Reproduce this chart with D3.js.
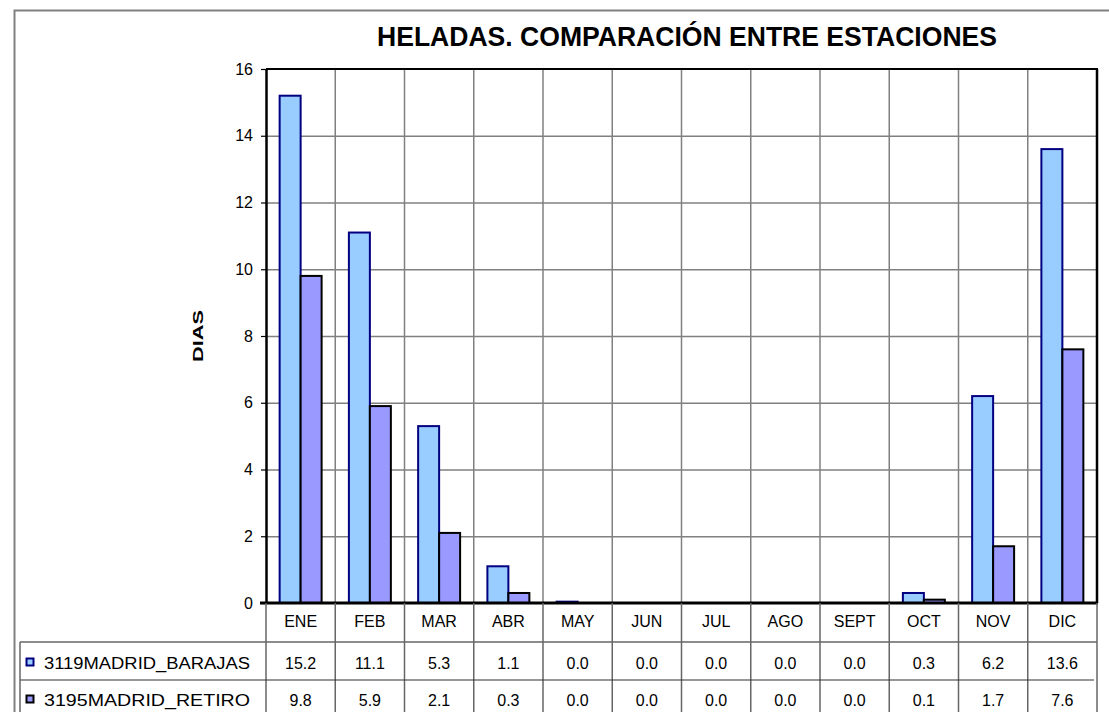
<!DOCTYPE html>
<html><head><meta charset="utf-8">
<script src="https://cdn.jsdelivr.net/npm/d3@7"></script>
<style>body{margin:0;background:#fff}svg{display:block}text{font-family:"Liberation Sans",Arial,sans-serif}</style>
</head><body><svg id="c" width="1109" height="712"></svg>
<script>
const categories = ["ENE","FEB","MAR","ABR","MAY","JUN","JUL","AGO","SEPT","OCT","NOV","DIC"];
const seriesNames = ["3119MADRID_BARAJAS","3195MADRID_RETIRO"];
const barajas = [15.2,11.1,5.3,1.1,0.04,0.0,0.0,0.0,0.0,0.3,6.2,13.6];
const retiro = [9.8,5.9,2.1,0.3,0.0,0.0,0.0,0.0,0.0,0.1,1.7,7.6];
const yTicks = [0,2,4,6,8,10,12,14,16];
const titleText = "HELADAS. COMPARACIÓN ENTRE ESTACIONES";
const yLabel = "DIAS";

const seriesValues = [barajas, retiro];
const fills = ["#99CCFF","#9999FF"];
const strokes = ["#000080","#000000"];

const svg = d3.select("#c");
const L = 266, R = 1097, T = 69, B = 603;

svg.append("rect").attr("width",1109).attr("height",712).attr("fill","#fff");
// outer frame
svg.append("path").attr("d","M14.5,712 V10.5 H1109").attr("fill","none").attr("stroke","#808080").attr("stroke-width",2);

const x = d3.scaleBand().domain(categories).range([L,R]).padding(0);
const xs = d3.scaleBand().domain(d3.range(seriesNames.length)).range([0,x.bandwidth()]).paddingInner(0).paddingOuter(0.65);
const y = d3.scaleLinear().domain([0,16]).range([B,T]);

// horizontal gridlines
svg.append("g").selectAll("line").data(yTicks.filter(t=>t>0&&t<16)).join("line")
  .attr("x1",L).attr("x2",R).attr("y1",d=>y(d)+0.5).attr("y2",d=>y(d)+0.5)
  .attr("stroke","#808080").attr("stroke-width",1.5);
// vertical category gridlines in plot
svg.append("g").selectAll("line").data(categories.slice(1)).join("line")
  .attr("x1",d=>x(d)).attr("x2",d=>x(d)).attr("y1",T).attr("y2",B)
  .attr("stroke","#808080").attr("stroke-width",1.5);

// bars
seriesValues.forEach((vals,si)=>{
  svg.append("g").selectAll("rect").data(vals.map((v,i)=>({c:categories[i],v}))).join("rect")
    .attr("x",d=>x(d.c)+xs(si))
    .attr("width",xs.bandwidth())
    .attr("y",d=>y(d.v))
    .attr("height",d=>y(0)-y(d.v))
    .attr("fill",fills[si]).attr("stroke",strokes[si]).attr("stroke-width",2);
});

// plot frame
svg.append("line").attr("x1",L).attr("x2",R+1).attr("y1",T).attr("y2",T).attr("stroke","#000").attr("stroke-width",2);
svg.append("line").attr("x1",R).attr("x2",R).attr("y1",T).attr("y2",B).attr("stroke","#000").attr("stroke-width",2.5);

// y axis
const yAxis = svg.append("g").attr("transform",`translate(${L},0)`)
  .call(d3.axisLeft(y).tickValues(yTicks).tickSize(5).tickPadding(8).tickSizeOuter(0));
yAxis.select(".domain").attr("stroke","#000").attr("stroke-width",2.5);
yAxis.selectAll(".tick line").attr("stroke","#000").attr("stroke-width",1.2);
yAxis.selectAll(".tick text").attr("font-size",16).attr("fill","#000").attr("font-family","Liberation Sans, Arial, sans-serif");

// x axis baseline
svg.append("line").attr("x1",L-6).attr("x2",R+1).attr("y1",B).attr("y2",B).attr("stroke","#000").attr("stroke-width",3);

// table lines
svg.append("g").selectAll("line").data(categories.concat(["__end"])).join("line")
  .attr("x1",d=>d==="__end"?R:x(d)).attr("x2",d=>d==="__end"?R:x(d))
  .attr("y1",B).attr("y2",712)
  .attr("stroke","#666").attr("stroke-width",1.5);
svg.append("line").attr("x1",20).attr("x2",R).attr("y1",642).attr("y2",642).attr("stroke","#666").attr("stroke-width",1.5);
svg.append("line").attr("x1",20).attr("x2",R-3).attr("y1",680).attr("y2",680).attr("stroke","#333").attr("stroke-width",1.2);
svg.append("line").attr("x1",20).attr("x2",20).attr("y1",642).attr("y2",712).attr("stroke","#666").attr("stroke-width",1.5);

// category labels
svg.append("g").selectAll("text").data(categories).join("text")
  .attr("x",d=>x(d)+x.bandwidth()/2).attr("y",627)
  .attr("text-anchor","middle").attr("font-size",16).text(d=>d);

// values
const rowY = [669,706];
seriesValues.forEach((vals,si)=>{
  svg.append("g").selectAll("text").data(vals).join("text")
    .attr("x",(d,i)=>x(categories[i])+x.bandwidth()/2).attr("y",rowY[si])
    .attr("text-anchor","middle").attr("font-size",16).text(d=>d.toFixed(1));
  svg.append("rect").attr("x",26.5).attr("y",rowY[si]-10.5).attr("width",7).attr("height",7)
    .attr("fill",fills[si]).attr("stroke",strokes[si]).attr("stroke-width",2);
  svg.append("text").attr("x",44).attr("y",rowY[si]).attr("font-size",16)
    .attr("textLength",206).attr("lengthAdjust","spacingAndGlyphs").text(seriesNames[si]);
});

// title
svg.append("text").attr("x",377).attr("y",46).attr("font-size",27).attr("font-weight","bold")
  .attr("textLength",620).attr("lengthAdjust","spacingAndGlyphs").text(titleText);

// y label
svg.append("text").attr("transform","translate(203,362) rotate(-90)")
  .attr("font-size",14).attr("font-weight","900").attr("textLength",52).attr("lengthAdjust","spacingAndGlyphs")
  .text(yLabel);
</script></body></html>
